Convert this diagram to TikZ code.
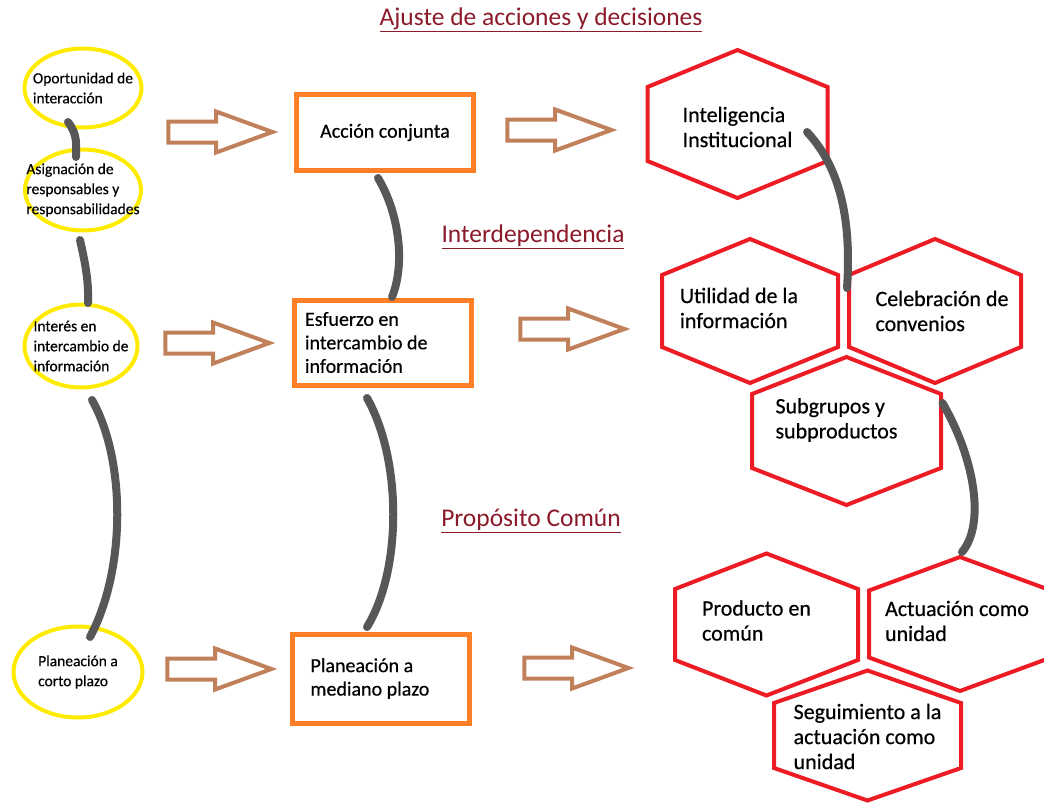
\documentclass[tikz,border=0pt]{standalone}
\usepackage{fontspec}
\setmainfont{Carlito}
\newfontfamily\txtfont{Carlito}[FakeBold=0.5]
\usepackage{tikz}
\usetikzlibrary{calc,shapes.geometric,shapes.arrows}
\definecolor{ellyellow}{HTML}{FFEB00}
\definecolor{boxorange}{HTML}{FF7F27}
\definecolor{hexred}{HTML}{ED1C24}
\definecolor{arrowbrown}{HTML}{C0805A}
\definecolor{linkgray}{HTML}{575757}
\definecolor{headred}{HTML}{8B1A2B}
\tikzset{
  ell/.style={ellipse, draw=ellyellow, line width=4pt, inner xsep=-20pt, inner ysep=-8pt, align=flush left, font=\txtfont\fontsize{15.5}{20}\selectfont},
  boxn/.style={rectangle, draw=boxorange, line width=5pt, minimum width=177pt, font=\txtfont\fontsize{20}{23.5}\selectfont},
  blockarr/.style={single arrow, draw=arrowbrown, line width=4pt, minimum height=104pt, single arrow head extend=10pt, single arrow tip angle=40, inner xsep=0pt, inner ysep=8.5pt},
  link/.style={draw=linkgray, line width=8pt, line cap=round},
  hexline/.style={draw=hexred, line width=4pt},
  hextxt/.style={align=flush left, font=\txtfont\fontsize{22}{25}\selectfont},
  heading/.style={text=headred, font=\fontsize{25.5}{28}\selectfont}
}
% hexagon cell: name, cx, cy, half width, half height, text position, text
\newcommand{\hexcell}[7]{%
  \begin{scope}[shift={(#2,#3)}]
    \draw[hexline] (-#4,{-#5/2}) -- (0,-#5) -- (#4,{-#5/2}) -- (#4,{#5/2}) -- (0,#5) -- (-#4,{#5/2}) -- cycle;
    \node[hextxt] (#1) at (#6) {#7};
  \end{scope}}

\begin{document}
\begin{tikzpicture}[x=1pt, y=-1pt]
  \useasboundingbox (0,0) rectangle (1044,806);

  % headings
  \node[heading] (ajuste) at (541,20) {\underline{Ajuste de acciones y decisiones}};
  \node[heading] (interdep) at (533,237) {\underline{Interdependencia}};
  \node[heading] (proposito) at (531,521) {\underline{Propósito Común}};

  % left column
  \node[ell, minimum width=117pt, minimum height=79pt] (e1) at (83,88) {Oportunidad de\\interacción};
  \node[ell, minimum width=116pt, minimum height=81pt] (e2) at (83,190) {Asignación de\\responsables y\\responsabilidades};
  \node[ell, minimum width=113pt, minimum height=83pt] (e3) at (81,346) {Interés en\\intercambio de\\información};
  \node[ell, minimum width=129pt, minimum height=91pt] (e4) at (78,672) {Planeación a\\corto plazo};

  % middle column
  \node[boxn, minimum height=76pt, align=center] (b1) at (385,132.5) {Acción conjunta};
  \node[boxn, minimum height=85pt, text width=155pt, align=flush left] (b2) at (382.5,342.5) {Esfuerzo en\\intercambio de\\información};
  \node[boxn, minimum height=89pt, text width=140pt, align=flush left] (b3) at (380.5,678.5) {Planeación a\\mediano plazo};

  % block arrows
  \node[blockarr] (a1) at (206,132) {};
  \node[blockarr] (a2) at (545,130) {};
  \node[blockarr] (a3) at (203,343) {};
  \node[blockarr] (a4) at (558,329) {};
  \node[blockarr] (a5) at (205,669) {};
  \node[blockarr] (a6) at (562,668) {};

  % right column
  \hexcell{intel}{737.5}{124}{90}{74}{0,3}{Inteligencia\\Institucional}
  \hexcell{util}{750}{311}{88}{72}{-11,-3}{Utilidad de la\\información}
  \hexcell{cele}{935}{311}{86}{72}{7,0}{Celebración de\\convenios}
  \hexcell{sub}{846.5}{431}{94.5}{74}{-10,-11}{Subgrupos y\\subproductos}
  \hexcell{prod}{766.5}{624.5}{91.5}{71}{-10,-4}{Producto en\\común}
  \hexcell{act}{960}{624}{91}{67}{-3,-3}{Actuación como\\unidad}
  \hexcell{seg}{867.5}{735.5}{93.5}{65}{0,1}{Seguimiento a la\\actuación como\\unidad}

  % links
  \draw[link] ($(e1)+(-15,34)$) .. controls +(10,13) and +(0,-12) .. ($(e2)+(-7,-33)$);
  \draw[link] ($(e2)+(-3,50)$) .. controls +(5,22) and +(1,-21) .. ($(e3)+(7,-43)$);
  \draw[link] ($(e3)+(11,54)$) .. controls +(34,60) and +(36,-67) .. ($(e4)+(12,-35)$);
  \draw[link] ($(b1)+(-7,45.5)$) .. controls +(22,37) and +(13,-32) .. ($(b2)+(9.5,-45.5)$);
  \draw[link] ($(b2)+(-15.5,55.5)$) .. controls +(35,62) and +(35,-57) .. ($(b3)+(-13.5,-51.5)$);
  \draw[link] ($(intel)+(69.5,5)$) .. controls +(31,33) and +(5,-73) .. ($(cele)+(-95,-23)$);
  \draw[link] ($(sub)+(106,-17)$) .. controls +(33,57) and +(23,-27) .. ($(act)+(5,-69)$);
\end{tikzpicture}
\end{document}
